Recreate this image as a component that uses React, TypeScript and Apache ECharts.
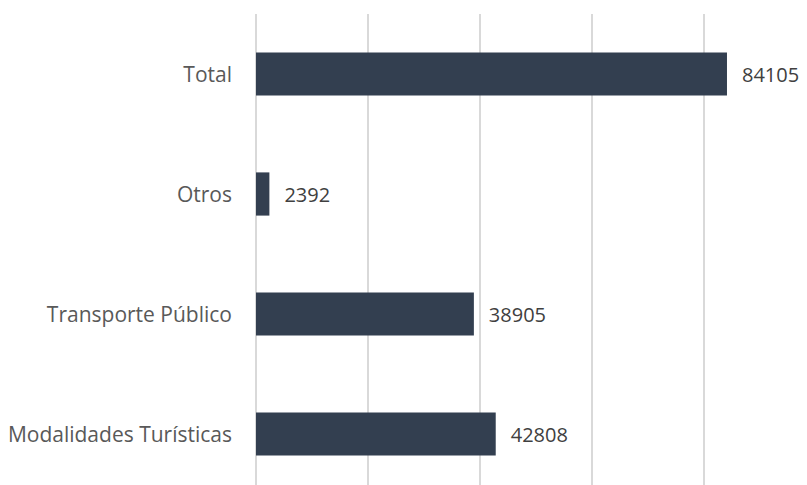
import React, { useEffect, useRef } from "react";
import * as echarts from "echarts";

const categories = ["Modalidades Turísticas", "Transporte Público", "Otros", "Total"];
const values = [42808, 38905, 2392, 84105];
const axisMax = 90000;
const axisInterval = 20000;

export default function App() {
  const ref = useRef<HTMLDivElement>(null);
  useEffect(() => {
    const chart = echarts.init(ref.current!, null, { renderer: "svg" });
    const grid = "#d9d9d9";
    chart.setOption({
      animation: false,
      backgroundColor: "#ffffff",
      grid: {
        left: 256,
        top: 14,
        width: 504,
        height: 480,
        containLabel: false,
        outerBoundsMode: "none",
      },
      xAxis: {
        type: "value",
        min: 0,
        max: axisMax,
        interval: axisInterval,
        axisLine: { show: false },
        axisTick: { show: false },
        axisLabel: { show: false },
        splitLine: {
          show: true,
          lineStyle: { color: [grid, grid, grid, grid, grid, "rgba(0,0,0,0)"], width: 2 },
        },
      },
      yAxis: {
        type: "category",
        data: categories,
        axisLine: { show: false },
        axisTick: { show: false },
        axisLabel: {
          margin: 24,
          color: "#595959",
          fontSize: 21,
          fontFamily: "Open Sans",
        },
      },
      series: [
        {
          type: "bar",
          data: values,
          barCategoryGap: "64%",
          itemStyle: { color: "#333f50" },
          label: {
            show: true,
            position: "right",
            distance: 15,
            color: "#404040",
            fontSize: 20,
            fontFamily: "Open Sans",
          },
        },
      ],
    });
    return () => chart.dispose();
  }, []);
  return (
    <div
      ref={ref}
      style={{ position: "fixed", left: 0, top: 0, width: 807, height: 485 }}
    />
  );
}
